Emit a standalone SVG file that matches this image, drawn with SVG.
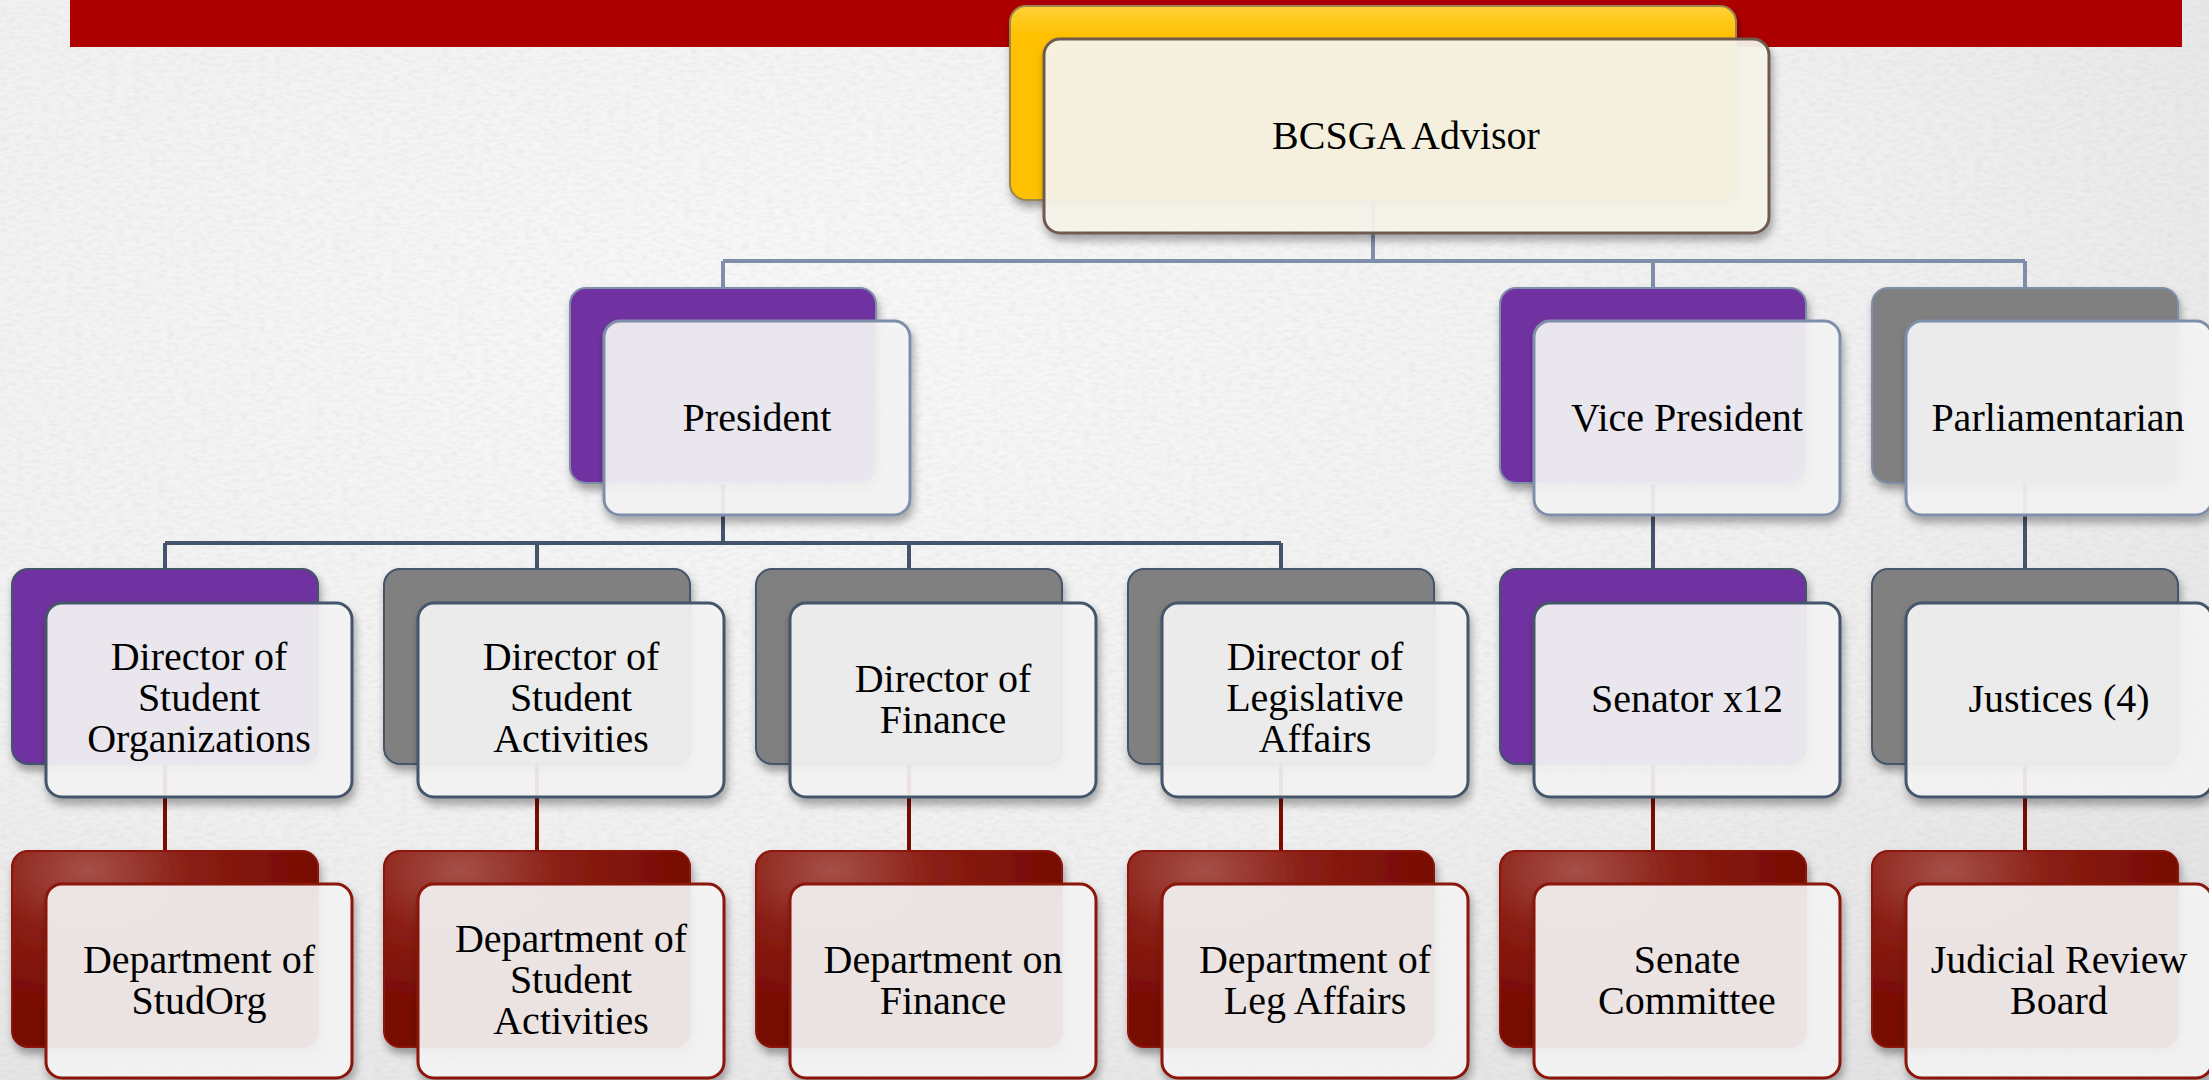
<svg xmlns="http://www.w3.org/2000/svg" width="2209" height="1080" viewBox="0 0 2209 1080">
<style>
.lbl{font-family:"Liberation Serif","Times New Roman",serif;font-size:40px;fill:#000;text-anchor:middle}
.front{fill:#f6f6f6;fill-opacity:0.9;stroke-width:3}
.back{stroke-width:2}
.c2{stroke:#7f8fa9}
.c3{stroke:#44546a}
.c4{stroke:#8a1208}
.purple{fill:#7030a0}
.gray{fill:#808080}
.red{fill:url(#redg)}
.conn path{fill:none;stroke-width:4}
</style>
<defs>
<filter id="sh" x="-10%" y="-10%" width="125%" height="130%">
<feDropShadow dx="2" dy="6" stdDeviation="4" flood-color="#000" flood-opacity="0.35"/>
</filter>
<filter id="noise" x="0" y="0" width="100%" height="100%">
<feTurbulence type="fractalNoise" baseFrequency="0.12 0.3" numOctaves="3" seed="5"/>
<feColorMatrix type="matrix" values="0 0 0 0 0.45  0 0 0 0 0.45  0 0 0 0 0.45  0 0 0 -0.9 0.55"/>
</filter>
<radialGradient id="bg" cx="35%" cy="30%" r="85%">
<stop offset="0" stop-color="#f8f8f8"/>
<stop offset="0.6" stop-color="#f0f0f0"/>
<stop offset="1" stop-color="#e3e3e3"/>
</radialGradient>
<radialGradient id="redg" cx="25%" cy="10%" r="75%">
<stop offset="0" stop-color="#a65048"/>
<stop offset="0.45" stop-color="#8a1e14"/>
<stop offset="1" stop-color="#760a02"/>
</radialGradient>
<linearGradient id="yel" x1="0" y1="0" x2="0" y2="1">
<stop offset="0" stop-color="#ffd23a"/>
<stop offset="0.15" stop-color="#ffc000"/>
<stop offset="1" stop-color="#ffc000"/>
</linearGradient>
</defs>

<rect width="2209" height="1080" fill="url(#bg)"/>
<rect width="2209" height="1080" filter="url(#noise)" opacity="0.35"/>
<rect x="70" y="0" width="2112" height="47" fill="#ad0000"/>

<g id="connectors" class="conn">
<path d="M1373 200V261M723 261H2025M723 261V288M1653 261V288M2025 261V288" stroke="#7f8fa9"/>
<path d="M723 483V543M165 543H1281M165 543V569M537 543V569M909 543V569M1281 543V569M1653 483V569M2025 483V569" stroke="#44546a"/>
<path d="M165 765V851M537 765V851M909 765V851M1281 765V851M1653 765V851M2025 765V851" stroke="#7a0c04"/>
</g>

<g id="advisor">
<rect x="1010" y="6" width="726" height="194" rx="16" fill="url(#yel)" stroke="#9a8650" stroke-width="2" filter="url(#sh)"/>
<rect x="1044" y="39" width="725" height="194" rx="16" fill="#f7f5ec" fill-opacity="0.93" stroke="#6e5a50" stroke-width="3" filter="url(#sh)"/>
<text class="lbl" x="1406" y="149">BCSGA Advisor</text>
</g>

<g id="president">
<rect class="back purple c2" x="570" y="288" width="306" height="195" rx="16" filter="url(#sh)"/>
<rect class="front c2" x="604" y="321" width="306" height="194" rx="16" filter="url(#sh)"/>
<text class="lbl" x="757" y="431">President</text>
</g>
<g id="vice-president">
<rect class="back purple c2" x="1500" y="288" width="306" height="195" rx="16" filter="url(#sh)"/>
<rect class="front c2" x="1534" y="321" width="306" height="194" rx="16" filter="url(#sh)"/>
<text class="lbl" x="1687" y="431">Vice President</text>
</g>
<g id="parliamentarian">
<rect class="back gray c2" x="1872" y="288" width="306" height="195" rx="16" filter="url(#sh)"/>
<rect class="front c2" x="1906" y="321" width="306" height="194" rx="16" filter="url(#sh)"/>
<text class="lbl" x="2058" y="431">Parliamentarian</text>
</g>

<g id="dir-studorg">
<rect class="back purple c3" x="12" y="569" width="306" height="195" rx="16" filter="url(#sh)"/>
<rect class="front c3" x="46" y="603" width="306" height="194" rx="16" filter="url(#sh)"/>
<text class="lbl" x="199" y="670"><tspan x="199">Director of</tspan><tspan x="199" dy="41">Student</tspan><tspan x="199" dy="41">Organizations</tspan></text>
</g>
<g id="dir-activities">
<rect class="back gray c3" x="384" y="569" width="306" height="195" rx="16" filter="url(#sh)"/>
<rect class="front c3" x="418" y="603" width="306" height="194" rx="16" filter="url(#sh)"/>
<text class="lbl" x="571" y="670"><tspan x="571">Director of</tspan><tspan x="571" dy="41">Student</tspan><tspan x="571" dy="41">Activities</tspan></text>
</g>
<g id="dir-finance">
<rect class="back gray c3" x="756" y="569" width="306" height="195" rx="16" filter="url(#sh)"/>
<rect class="front c3" x="790" y="603" width="306" height="194" rx="16" filter="url(#sh)"/>
<text class="lbl" x="943" y="692"><tspan x="943">Director of</tspan><tspan x="943" dy="41">Finance</tspan></text>
</g>
<g id="dir-legislative">
<rect class="back gray c3" x="1128" y="569" width="306" height="195" rx="16" filter="url(#sh)"/>
<rect class="front c3" x="1162" y="603" width="306" height="194" rx="16" filter="url(#sh)"/>
<text class="lbl" x="1315" y="670"><tspan x="1315">Director of</tspan><tspan x="1315" dy="41">Legislative</tspan><tspan x="1315" dy="41">Affairs</tspan></text>
</g>
<g id="senator">
<rect class="back purple c3" x="1500" y="569" width="306" height="195" rx="16" filter="url(#sh)"/>
<rect class="front c3" x="1534" y="603" width="306" height="194" rx="16" filter="url(#sh)"/>
<text class="lbl" x="1687" y="712">Senator x12</text>
</g>
<g id="justices">
<rect class="back gray c3" x="1872" y="569" width="306" height="195" rx="16" filter="url(#sh)"/>
<rect class="front c3" x="1906" y="603" width="306" height="194" rx="16" filter="url(#sh)"/>
<text class="lbl" x="2059" y="712">Justices (4)</text>
</g>

<g id="dept-studorg">
<rect class="back red c4" x="12" y="851" width="306" height="196" rx="16" filter="url(#sh)"/>
<rect class="front c4" x="46" y="884" width="306" height="194" rx="16" filter="url(#sh)"/>
<text class="lbl" x="199" y="973"><tspan x="199">Department of</tspan><tspan x="199" dy="41">StudOrg</tspan></text>
</g>
<g id="dept-activities">
<rect class="back red c4" x="384" y="851" width="306" height="196" rx="16" filter="url(#sh)"/>
<rect class="front c4" x="418" y="884" width="306" height="194" rx="16" filter="url(#sh)"/>
<text class="lbl" x="571" y="952"><tspan x="571">Department of</tspan><tspan x="571" dy="41">Student</tspan><tspan x="571" dy="41">Activities</tspan></text>
</g>
<g id="dept-finance">
<rect class="back red c4" x="756" y="851" width="306" height="196" rx="16" filter="url(#sh)"/>
<rect class="front c4" x="790" y="884" width="306" height="194" rx="16" filter="url(#sh)"/>
<text class="lbl" x="943" y="973"><tspan x="943">Department on</tspan><tspan x="943" dy="41">Finance</tspan></text>
</g>
<g id="dept-leg">
<rect class="back red c4" x="1128" y="851" width="306" height="196" rx="16" filter="url(#sh)"/>
<rect class="front c4" x="1162" y="884" width="306" height="194" rx="16" filter="url(#sh)"/>
<text class="lbl" x="1315" y="973"><tspan x="1315">Department of</tspan><tspan x="1315" dy="41">Leg Affairs</tspan></text>
</g>
<g id="senate-committee">
<rect class="back red c4" x="1500" y="851" width="306" height="196" rx="16" filter="url(#sh)"/>
<rect class="front c4" x="1534" y="884" width="306" height="194" rx="16" filter="url(#sh)"/>
<text class="lbl" x="1687" y="973"><tspan x="1687">Senate</tspan><tspan x="1687" dy="41">Committee</tspan></text>
</g>
<g id="judicial-review">
<rect class="back red c4" x="1872" y="851" width="306" height="196" rx="16" filter="url(#sh)"/>
<rect class="front c4" x="1906" y="884" width="306" height="194" rx="16" filter="url(#sh)"/>
<text class="lbl" x="2059" y="973"><tspan x="2059">Judicial Review</tspan><tspan x="2059" dy="41">Board</tspan></text>
</g>
</svg>
